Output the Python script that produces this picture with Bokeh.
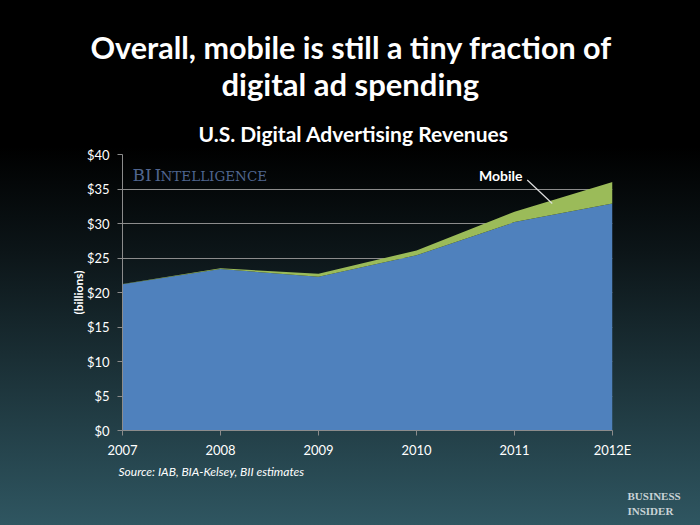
from bokeh.plotting import figure
from bokeh.models import (ColumnDataSource, Range1d, FixedTicker, Label, Title,
                          GlobalInlineStyleSheet)
from bokeh.embed import file_html
from bokeh.resources import INLINE

# ---- data ----
years = ["2007", "2008", "2009", "2010", "2011", "2012E"]
other = [21.2, 23.4, 22.3, 25.4, 30.2, 32.9]
mobile = [0.05, 0.1, 0.4, 0.7, 1.5, 3.1]
y_ticks = [0, 5, 10, 15, 20, 25, 30, 35, 40]
y_tick_labels = ["$" + str(v) for v in y_ticks]

BLUE = "#4f81bd"
GREEN = "#9bbb59"
FONT = "Lato"

W, H = 700, 525
FL, FR, FT, FB = 122, 88, 154, 95  # frame borders inside figure

xs = list(range(len(years)))
src = ColumnDataSource(dict(x=xs, other=other, mobile=mobile))

css = GlobalInlineStyleSheet(css="""
html { height: 100%; background: linear-gradient(to bottom, #000000 0%, #000000 28%, #0c1518 48%, #2f5661 100%); }
body { background: transparent; overflow: hidden; }
""")

p = figure(width=W, height=H, output_backend="svg", toolbar_location=None,
           x_range=Range1d(0, len(years) - 1), y_range=Range1d(0, 40),
           min_border_left=FL, min_border_right=FR, min_border_top=FT,
           min_border_bottom=FB)
p.stylesheets = [css]
p.background_fill_alpha = 0
p.border_fill_alpha = 0
p.outline_line_color = None

p.varea_stack(["other", "mobile"], x="x", source=src, color=[BLUE, GREEN])

# axes
p.xaxis.ticker = FixedTicker(ticks=xs)
p.xaxis.major_label_overrides = {i: y for i, y in enumerate(years)}
p.yaxis.ticker = FixedTicker(ticks=y_ticks)
p.yaxis.major_label_overrides = {v: l for v, l in zip(y_ticks, y_tick_labels)}
for ax in (p.xaxis[0], p.yaxis[0]):
    ax.axis_line_color = "#8c8c8c"
    ax.major_tick_line_color = "#8c8c8c"
    ax.major_tick_in = 0
    ax.major_tick_out = 5
    ax.minor_tick_line_color = None
    ax.major_label_text_color = "white"
    ax.major_label_text_font = FONT
    ax.major_label_text_font_size = "13px"
p.xaxis.major_label_standoff = 6
p.yaxis.major_label_standoff = 8
p.yaxis.axis_label = "(billions)"
p.yaxis.axis_label_text_color = "white"
p.yaxis.axis_label_text_font = FONT
p.yaxis.axis_label_text_font_style = "bold"
p.yaxis.axis_label_text_font_size = "12px"
p.yaxis.axis_label_standoff = -2

p.xgrid.grid_line_color = None
p.ygrid.grid_line_color = "#8c8c8c"
p.ygrid.grid_line_width = 1

# ---- titles above (first added = nearest the plot; p.title outermost) ----
p.add_layout(Title(text="U.S. Digital Advertising Revenues", align="left",
                   text_color="white", text_font=FONT, text_font_style="bold",
                   text_font_size="21px", standoff=17, offset=76), "above")
p.add_layout(Title(text="digital ad spending", align="left",
                   text_color="white", text_font=FONT, text_font_style="bold",
                   text_font_size="31px", standoff=15, offset=99), "above")
p.title = Title(text="Overall, mobile is still a tiny fraction of",
                align="left", text_color="white", text_font=FONT,
                text_font_style="bold", text_font_size="30.5px",
                standoff=-19, offset=-32)

# ---- below: source + logo ----
p.add_layout(Title(text="Source:  IAB, BIA-Kelsey, BII estimates", align="left",
                   text_color="white", text_font=FONT, text_font_style="italic",
                   text_font_size="12px", standoff=2, offset=-4), "below")
p.add_layout(Title(text="BUSINESS\nINSIDER", align="left",
                   text_color="#c9d3d6", text_font="Liberation Serif",
                   text_font_style="bold", text_font_size="11px",
                   text_line_height=1.25, standoff=16, offset=505), "below")


def pos(px, py):
    """page pixel -> frame-relative screen units"""
    return px - FL, (H - FB) - py


def label(px, py, text, size, color="white", font=FONT, style="normal",
          align="left"):
    sx, sy = pos(px, py)
    p.add_layout(Label(x=sx, y=sy, x_units="screen", y_units="screen",
                       text=text, text_color=color, text_font=font,
                       text_font_size=size, text_font_style=style,
                       text_align=align, text_baseline="middle"))


# watermark
WM = "#50658f"
label(132, 174, "BI", "17px", color=WM, font="DejaVu Serif")
label(154, 174, "I", "17px", color=WM, font="DejaVu Serif")
label(160, 175, "NTELLIGENCE", "13.5px", color=WM, font="DejaVu Serif")

# mobile callout
p.add_layout(Label(x=3.86, y=36.9, text="Mobile", text_color="white",
                   text_font=FONT, text_font_style="bold",
                   text_font_size="14px", text_align="center",
                   text_baseline="middle"))
p.segment(x0=[4.13], y0=[36.3], x1=[4.385], y1=[32.9],
          line_color="#e0e0e0", line_width=1.2)

open("out.html", "w").write(file_html(p, INLINE))
